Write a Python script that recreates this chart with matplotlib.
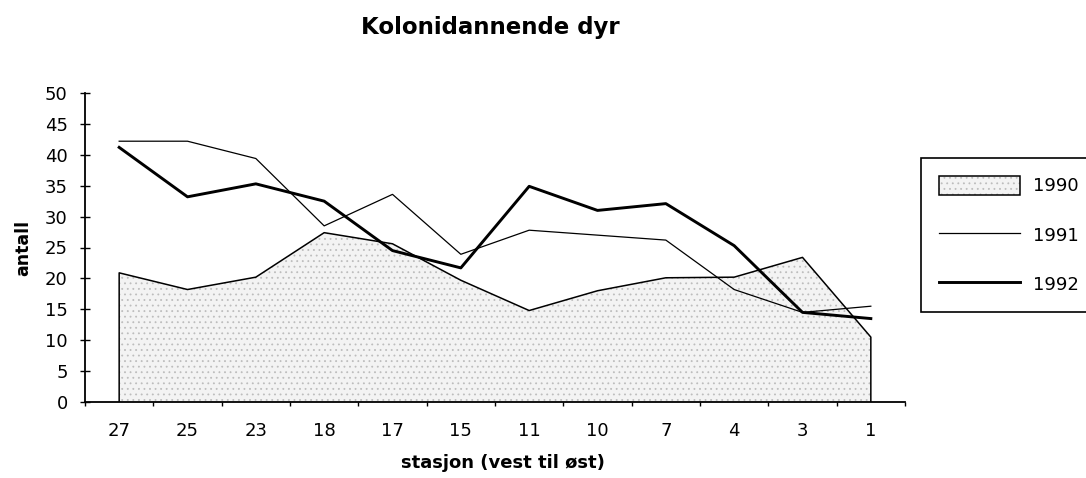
import matplotlib
matplotlib.use('Agg')
import matplotlib.pyplot as plt
from matplotlib.patches import Patch
from matplotlib.lines import Line2D
from matplotlib.legend_handler import HandlerTuple
import numpy as np

# ---- data ----
stations = ['27', '25', '23', '18', '17', '15', '11', '10', '7', '4', '3', '1']
y1990 = [20.9, 18.2, 20.2, 27.4, 25.6, 19.7, 14.8, 18.0, 20.1, 20.2, 23.4, 10.5]
y1991 = [42.2, 42.2, 39.4, 28.5, 33.6, 23.9, 27.8, 27.0, 26.2, 18.2, 14.5, 15.5]
y1992 = [41.2, 33.2, 35.3, 32.5, 24.5, 21.7, 34.9, 31.0, 32.1, 25.3, 14.5, 13.5]
series_labels = ['1990', '1991', '1992']
yticks = list(range(0, 55, 5))

title = 'Kolonidannende dyr'
xlabel = 'stasjon (vest til øst)'
ylabel = 'antall'

plt.rcParams['font.family'] = ['DejaVu Sans']
plt.rcParams['hatch.linewidth'] = 0.6

W, H = 1086, 478
fig = plt.figure(figsize=(W / 100, H / 100), dpi=100)
fig.patch.set_facecolor('white')
ax = fig.add_axes([85 / W, 1 - 402 / H, 820 / W, 309 / H])

x = np.arange(len(stations))
fill_face = '#f3f3f3'
hatch_col = '#bdbdbd'

ax.fill_between(x, y1990, 0, facecolor=fill_face, edgecolor=hatch_col,
                hatch='...', linewidth=0, zorder=1)
ax.plot(np.concatenate([[x[0]], x, [x[-1]]]),
        np.concatenate([[0], y1990, [0]]), color='black', lw=1.1, zorder=2)
ax.plot(x, y1991, color='black', lw=0.9, zorder=3)
ax.plot(x, y1992, color='black', lw=2.1, zorder=4)

ax.set_xlim(-0.5, len(stations) - 0.5)
ax.set_ylim(0, 50)
ax.set_yticks(yticks)
ax.set_yticklabels([str(v) for v in yticks])
ax.set_xticks(np.arange(-0.5, len(stations), 1.0))
ax.set_xticklabels([])
ax.set_xticks(x, minor=True)
ax.set_xticklabels(stations, minor=True)

ax.tick_params(axis='y', direction='inout', length=7, width=1, pad=9,
               labelsize=13, color='black')
ax.tick_params(axis='x', which='major', direction='out', length=3, width=1)
ax.tick_params(axis='x', which='minor', length=0, pad=14.5, labelsize=13)

for s in ['top', 'right']:
    ax.spines[s].set_visible(False)
for s in ['left', 'bottom']:
    ax.spines[s].set_linewidth(1.3)
ax.set_facecolor('white')

ax.set_ylabel(ylabel, fontsize=12.5, fontweight='bold')
ax.yaxis.set_label_coords(-0.064, 0.5)

fig.text(490 / W, 1 - 34 / H, title, ha='center', va='baseline',
         fontsize=16.5, fontweight='bold')
fig.text(503 / W, 1 - 468 / H, xlabel, ha='center', va='baseline',
         fontsize=13, fontweight='bold')

h1990 = (Patch(facecolor=fill_face, edgecolor=hatch_col, hatch='...', lw=0),
         Patch(facecolor='none', edgecolor='black', lw=1.1))
h1991 = Line2D([], [], color='black', lw=0.9)
h1992 = Line2D([], [], color='black', lw=2.1)
leg = fig.legend([h1990, h1991, h1992], series_labels,
                 handler_map={tuple: HandlerTuple(ndivide=1, pad=0)},
                 loc='upper left', bbox_to_anchor=(920.7 / W, 1 - 158 / H),
                 bbox_transform=fig.transFigure, frameon=True, fancybox=False,
                 edgecolor='black', framealpha=1, fontsize=13,
                 handlelength=4.5, handleheight=1.2, labelspacing=1.65,
                 handletextpad=0.7, borderpad=1.0, borderaxespad=0)
leg.get_frame().set_linewidth(1.2)

fig.savefig('out.png', dpi=100, facecolor='white')
